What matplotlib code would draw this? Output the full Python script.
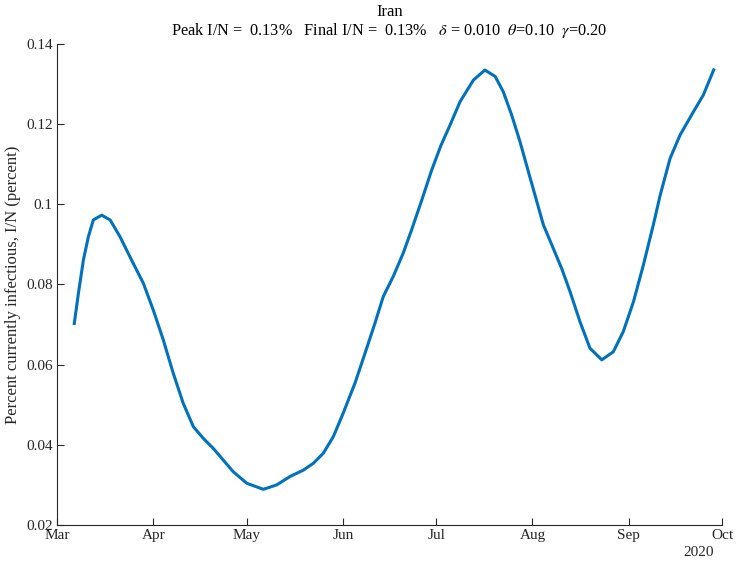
import numpy as np
import pandas as pd
import matplotlib
matplotlib.use("Agg")
import matplotlib.pyplot as plt
import matplotlib.dates as mdates

# values
start_date = "2020-03-01"
days = [5.5, 6.9, 8.5, 10.1, 11.7, 14.4, 17.1, 20.3, 24.0, 27.8,
        31.0, 34.2, 37.4, 40.6, 43.9, 47.1, 50.3, 53.5, 56.7, 61.1,
        66.4, 70.7, 75.0, 79.3, 82.5, 85.7, 88.9, 92.1, 95.9, 99.1,
        102.3, 105.0, 108.2, 111.4, 114.1, 117.4, 120.6, 123.5, 126.5, 129.7,
        134.0, 137.7, 141.0, 143.6, 146.3, 149.0, 151.7, 154.4, 156.5, 159.7,
        162.4, 165.1, 168.3, 171.5, 175.3, 179.0, 182.2, 185.5, 188.7, 191.9,
        194.1, 197.3, 200.5, 204.8, 208.0, 211.5]
infectious = [0.0699, 0.0778, 0.0861, 0.0919, 0.0961, 0.0973, 0.0961, 0.0919, 0.0861, 0.0803,
              0.0736, 0.0662, 0.0579, 0.0504, 0.0445, 0.0416, 0.0391, 0.0362, 0.0333, 0.0304,
              0.0289, 0.0300, 0.0321, 0.0337, 0.0354, 0.0379, 0.0420, 0.0479, 0.0554, 0.0628,
              0.0703, 0.0770, 0.0820, 0.0878, 0.0936, 0.1011, 0.1086, 0.1146, 0.1198, 0.1256,
              0.1310, 0.1335, 0.1319, 0.1281, 0.1223, 0.1156, 0.1081, 0.1007, 0.0949, 0.0890,
              0.0840, 0.0782, 0.0707, 0.0641, 0.0612, 0.0632, 0.0682, 0.0757, 0.0849, 0.0949,
              0.1023, 0.1115, 0.1173, 0.1231, 0.1273, 0.1339]
yticks = [0.02, 0.04, 0.06, 0.08, 0.1, 0.12, 0.14]
ytick_labels = ["0.02", "0.04", "0.06", "0.08", "0.1", "0.12", "0.14"]

plt.rcParams['font.family'] = ['Liberation Serif', 'DejaVu Serif']
plt.rcParams['mathtext.fontset'] = 'stix'

fig = plt.figure(figsize=(7.37, 5.61), dpi=100)
ax = fig.add_axes([0.0773, 0.0642, 0.9024, 0.8574])

t = pd.Timestamp(start_date) + pd.to_timedelta(days, unit='D')
ax.plot(t, infectious, color='#0072BD', linewidth=2.2,
        solid_capstyle='butt', solid_joinstyle='round')

ax.set_xlim(pd.Timestamp("2020-03-01"), pd.Timestamp("2020-10-01"))
ax.set_ylim(0.02, 0.14)
ax.set_yticks(yticks)
ax.set_yticklabels(ytick_labels)
ax.xaxis.set_major_locator(mdates.MonthLocator())
ax.xaxis.set_major_formatter(mdates.DateFormatter('%b'))

for s in ['top', 'right']:
    ax.spines[s].set_visible(False)
for s in ['left', 'bottom']:
    ax.spines[s].set_color('#262626')
    ax.spines[s].set_linewidth(0.8)
ax.tick_params(direction='in', length=5, width=0.8, color='#262626',
               labelsize=11, labelcolor='#262626', pad=3)

ax.set_ylabel("Percent currently infectious, I/N (percent)", fontsize=12, color='#262626')
ax.text(0.988, -0.044, "2020", transform=ax.transAxes, ha='right', va='top',
        fontsize=11, color='#262626')

# two-line title, centred over the axes
ax.text(0.5, 1.0665, "Iran", transform=ax.transAxes, ha='center', va='center', fontsize=12)
ax.text(0.5, 1.029,
        r"Peak I/N =  0.13%   Final I/N =  0.13%   $\delta$ = 0.010  $\theta$=0.10  $\gamma$=0.20",
        transform=ax.transAxes, ha='center', va='center', fontsize=11.7)

fig.savefig("out.png", dpi=100)
